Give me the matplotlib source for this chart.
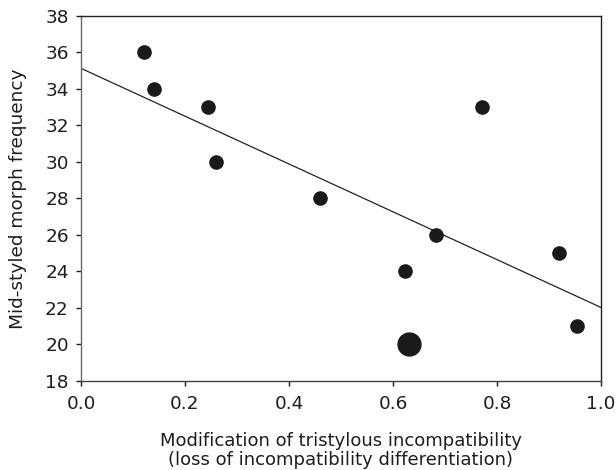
import numpy as np
from matplotlib import pyplot as plt

plt.rcParams['font.family'] = ['DejaVu Sans']

# incompatibility modification vs mid-styled morph frequency
modif = [0.121, 0.140, 0.245, 0.260, 0.460, 0.624, 0.683, 0.771, 0.920, 0.953]
mid_freq = [36, 34, 33, 30, 28, 24, 26, 33, 25, 21]
# two populations overlap at this point (drawn larger)
modif_big = [0.630]
mid_freq_big = [20]

# regression line
intercept = 35.13
slope = -13.1

fig = plt.figure(figsize=(6.16, 4.70), dpi=100)
ax = fig.add_axes([0.1315, 0.1894, 0.8441, 0.7766])

xl = np.array([0.0, 1.0])
ax.plot(xl, intercept + slope * xl, color='#222222', linewidth=0.9)
ax.plot(modif, mid_freq, 'o', color='#1a1a1a', markersize=9.5, linestyle='none')
ax.plot(modif_big, mid_freq_big, 'o', color='#1a1a1a', markersize=16.5, linestyle='none')

ax.set_xlim(0, 1.0)
ax.set_ylim(18, 38)
ax.set_xticks(np.arange(0, 1.01, 0.2))
ax.set_yticks(np.arange(18, 39, 2))
ax.set_xticklabels([f'{v:.1f}' for v in np.arange(0, 1.01, 0.2)])

ax.tick_params(direction='out', length=3.8, width=1, labelsize=13.3, colors='#1e1e1e')
ax.tick_params(axis='y', pad=5)
ax.tick_params(axis='x', pad=6)
ax.tick_params(top=False, right=False)
for s in ax.spines.values():
    s.set_linewidth(1.0)
    s.set_color('#222222')
ax.spines['left'].set_color('#666666')
ax.spines['bottom'].set_color('#444444')

ax.set_xlabel('Modification of tristylous incompatibility\n(loss of incompatibility differentiation)',
              fontsize=13.0, color='#1e1e1e', labelpad=14, linespacing=1.08)
ax.set_ylabel('Mid-styled morph frequency', fontsize=13.3, color='#1e1e1e', labelpad=13)

plt.savefig('out.png')
